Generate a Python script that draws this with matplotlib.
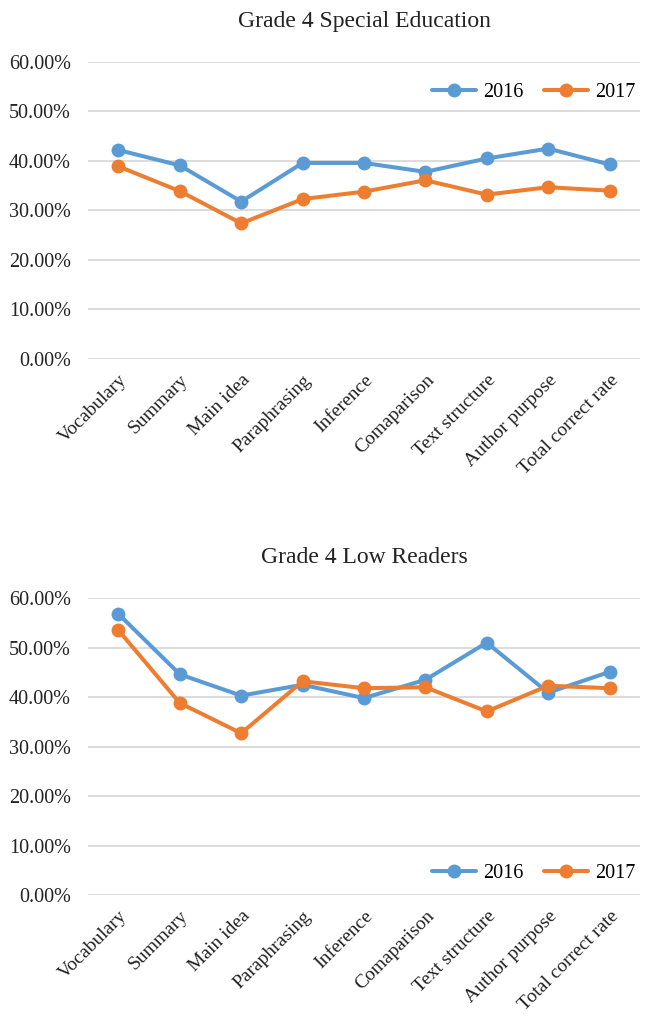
import matplotlib
matplotlib.use("Agg")
import matplotlib.pyplot as plt
from matplotlib.ticker import FuncFormatter

categories = ["Vocabulary", "Summary", "Main idea", "Paraphrasing", "Inference",
              "Comaparison", "Text structure", "Author purpose", "Total correct rate"]
years = ["2016", "2017"]

sped_2016 = [42.2, 39.1, 31.8, 39.6, 39.6, 37.8, 40.5, 42.5, 39.3]
sped_2017 = [38.9, 33.9, 27.4, 32.3, 33.8, 36.1, 33.2, 34.7, 34.0]

low_2016 = [56.8, 44.6, 40.3, 42.5, 39.8, 43.5, 51.0, 40.9, 45.1]
low_2017 = [53.5, 38.8, 32.7, 43.2, 41.8, 42.0, 37.1, 42.3, 41.8]

titles = ["Grade 4 Special Education", "Grade 4 Low Readers"]
yticks = [0, 10, 20, 30, 40, 50, 60]

plt.rcParams['font.family'] = ['Liberation Serif', 'DejaVu Serif']

colors = ["#5B9BD5", "#ED7D31"]

fig = plt.figure(figsize=(6.5, 10.16), dpi=100)
ax1 = fig.add_axes([0.135, 0.6467, 0.85, 0.2923])
ax2 = fig.add_axes([0.135, 0.119, 0.85, 0.2923])

datasets = [(sped_2016, sped_2017), (low_2016, low_2017)]
legend_locs = [dict(loc="upper right", bbox_to_anchor=(1.006, 0.955)),
               dict(loc="lower right", bbox_to_anchor=(1.006, 0.015))]

for ax, data, title, lloc in zip([ax1, ax2], datasets, titles, legend_locs):
    x = list(range(len(categories)))
    for vals, c, yr in zip(data, colors, years):
        ax.plot(x, vals, color=c, lw=2.9, marker="o", ms=9, label=yr,
                solid_capstyle="round", zorder=3)
    ax.set_ylim(0, 60)
    ax.set_xlim(-0.5, len(categories) - 0.5)
    ax.set_yticks(yticks)
    ax.yaxis.set_major_formatter(FuncFormatter(lambda v, p: f"{v:.2f}%"))
    ax.set_xticks(x)
    ax.set_xticklabels(categories, rotation=45, ha="right", rotation_mode="anchor")
    ax.tick_params(axis="y", length=0, labelsize=14.5, colors="#222222", pad=12)
    ax.tick_params(axis="x", length=0, labelsize=14, colors="#222222", pad=9)
    ax.grid(axis="y", color="#D9D9D9", lw=1.3, zorder=0)
    for s in ax.spines.values():
        s.set_visible(False)
    ax.set_title(title, fontsize=17, pad=25, color="#222222")
    ax.legend(ncol=2, frameon=False, fontsize=14.5, handlelength=2.2,
              columnspacing=1.0, handletextpad=0.35, borderaxespad=0, **lloc)

fig.savefig("out.png", dpi=100, facecolor="white")
